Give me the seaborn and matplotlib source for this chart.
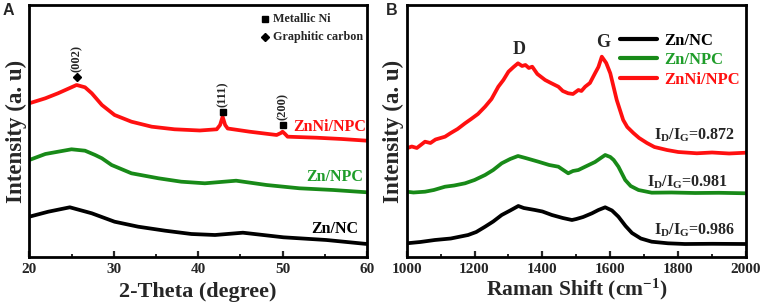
import numpy as np
import pandas as pd
import matplotlib
matplotlib.use("Agg")
import matplotlib.pyplot as plt
import seaborn as sns
from matplotlib.lines import Line2D

# ---------------- data (panel A: XRD) ----------------
xrd_red_x = [20.0, 21.9, 23.4, 25.6, 26.6, 27.4, 28.6, 30.1, 32.1, 34.5, 37.2, 40.2, 42.2, 42.6, 42.9, 43.2,
             43.5, 46.1, 49.3, 49.8, 50.0, 50.3, 50.6, 54.0, 57.0, 60.0]
xrd_red_y = [153.7, 158.7, 163.7, 172.0, 169.7, 163.7, 152.0, 142.0, 135.3, 130.3, 127.7, 126.5, 127.7, 132.0,
             140.3, 132.0, 128.5, 125.3, 122.0, 124.0, 125.3, 123.0, 120.3, 119.3, 118.0, 116.3]
xrd_green_x = [20.0, 21.9, 25.0, 26.6, 27.8, 28.6, 29.75, 32.1, 35.3, 38.0, 40.8, 44.5, 48.1, 52.0, 56.0, 60.0]
xrd_green_y = [97.0, 103.0, 107.7, 106.3, 102.0, 98.7, 92.0, 83.7, 78.7, 75.3, 73.7, 76.3, 72.0, 68.7, 67.0, 64.7]
xrd_black_x = [20.0, 22.25, 24.8, 27.4, 30.1, 32.9, 36.1, 39.2, 42.0, 45.3, 50.1, 55.2, 60.0]
xrd_black_y = [40.3, 45.3, 49.7, 43.7, 35.3, 30.3, 26.3, 23.0, 22.0, 24.3, 19.7, 17.0, 13.0]

# ---------------- data (panel B: Raman) ----------------
ram_red_x = [1000, 1015, 1030, 1054, 1070, 1085, 1113, 1130, 1150, 1172, 1190, 1210, 1231, 1250, 1270, 1285,
             1300, 1315, 1328, 1340, 1350, 1360, 1370, 1385, 1408, 1425, 1447, 1460, 1476, 1490, 1506, 1515,
             1526, 1540, 1555, 1565, 1575, 1588, 1600, 1619, 1638, 1650, 1668, 1685, 1708, 1730, 1767, 1800,
             1855, 1900, 1950, 2000]
ram_red_y = [108.7, 110.5, 109.0, 115.3, 114.0, 117.5, 120.3, 124.0, 128.0, 133.7, 138.0, 143.0, 150.3, 158.0,
             170.3, 177.0, 185.3, 190.0, 193.7, 191.0, 192.0, 189.0, 190.3, 183.0, 177.0, 174.0, 170.3, 166.0,
             163.7, 163.0, 167.0, 166.0, 170.3, 174.0, 183.7, 190.0, 200.3, 194.0, 183.7, 157.0, 137.0, 130.0,
             124.0, 119.0, 114.0, 110.0, 107.0, 105.0, 103.7, 104.5, 103.5, 104.3]
ram_green_x = [1000, 1020, 1054, 1080, 1113, 1140, 1172, 1200, 1231, 1255, 1280, 1305, 1328, 1350, 1388, 1420,
               1447, 1476, 1490, 1506, 1526, 1555, 1572, 1585, 1600, 1610, 1624, 1644, 1660, 1683, 1722, 1780,
               1850, 1920, 2000]
ram_green_y = [65.3, 64.5, 65.3, 67.0, 70.3, 71.5, 73.7, 77.0, 82.0, 87.0, 93.7, 98.0, 101.0, 99.0, 95.3, 92.0,
               90.3, 83.7, 86.0, 87.0, 90.3, 95.0, 99.0, 102.0, 100.0, 97.0, 90.3, 77.0, 71.0, 67.0, 64.3, 64.5,
               64.0, 64.2, 63.7]
ram_black_x = [1000, 1040, 1083, 1130, 1181, 1205, 1231, 1255, 1280, 1305, 1329, 1345, 1378, 1400, 1428, 1460,
               1487, 1500, 1520, 1546, 1565, 1585, 1605, 1624, 1645, 1664, 1690, 1722, 1770, 1820, 1900, 2000]
ram_black_y = [13.7, 15.0, 17.0, 18.5, 22.0, 25.0, 30.3, 35.5, 42.0, 46.5, 51.0, 49.0, 47.0, 45.5, 42.0, 39.0,
               37.0, 38.0, 40.0, 43.7, 47.0, 49.7, 46.5, 40.3, 31.0, 24.0, 18.5, 15.3, 13.7, 13.0, 13.2, 13.0]

samples = ["Zn/NC", "Zn/NPC", "ZnNi/NPC"]
ratios = ["0.986", "0.981", "0.872"]
peak_labels = ["(002)", "(111)", "(200)"]
peak_pos = [25.6, 42.9, 50.0]
marker_kinds = ["D", "s", "s"]
legend_a = ["Metallic Ni", "Graphitic carbon"]

line_colors = {"Zn/NC": "#000000", "Zn/NPC": "#188a18", "ZnNi/NPC": "#ff1010"}
text_colors = {"Zn/NC": "#000000", "Zn/NPC": "#1f9d2a", "ZnNi/NPC": "#ff1010"}

xrd = pd.concat([
    pd.DataFrame({"x": xrd_black_x, "y": xrd_black_y, "s": "Zn/NC"}),
    pd.DataFrame({"x": xrd_green_x, "y": xrd_green_y, "s": "Zn/NPC"}),
    pd.DataFrame({"x": xrd_red_x, "y": xrd_red_y, "s": "ZnNi/NPC"}),
])
ram = pd.concat([
    pd.DataFrame({"x": ram_black_x, "y": ram_black_y, "s": "Zn/NC"}),
    pd.DataFrame({"x": ram_green_x, "y": ram_green_y, "s": "Zn/NPC"}),
    pd.DataFrame({"x": ram_red_x, "y": ram_red_y, "s": "ZnNi/NPC"}),
])

sns.set_style("white")
plt.rcParams["font.family"] = ["Liberation Serif", "DejaVu Serif"]
plt.rcParams["font.weight"] = "bold"
plt.rcParams["mathtext.fontset"] = "custom"
plt.rcParams["mathtext.rm"] = "Liberation Serif:bold"
plt.rcParams["mathtext.it"] = "Liberation Serif:bold"
plt.rcParams["mathtext.bf"] = "Liberation Serif:bold"
plt.rcParams["mathtext.default"] = "rm"

fig = plt.figure(figsize=(7.65, 3.04), dpi=100)
axA = fig.add_axes([0.0383, 0.1546, 0.4414, 0.829])
axB = fig.add_axes([0.5316, 0.1546, 0.4436, 0.829])

sns.lineplot(data=xrd, x="x", y="y", hue="s", palette=line_colors, hue_order=samples,
             linewidth=2.7, legend=False, ax=axA, estimator=None, sort=False)
sns.lineplot(data=ram, x="x", y="y", hue="s", palette=line_colors, hue_order=samples,
             linewidth=2.7, legend=False, ax=axB, estimator=None, sort=False)

for ax in (axA, axB):
    ax.set_ylim(0, 252)
    ax.set_yticks([])
    for sp in ax.spines.values():
        sp.set_linewidth(2.0)
        sp.set_color("black")
    ax.tick_params(axis="x", which="major", direction="in", length=4, width=1.6,
                   labelsize=11, pad=4, bottom=True)
    ax.tick_params(axis="x", which="minor", direction="in", length=2.5, width=1.4, bottom=True)
    ax.set_ylabel("Intensity (a. u)", fontsize=16.5, fontweight="bold", labelpad=2)

axA.set_xlim(20, 60)
axA.set_xticks([20, 30, 40, 50, 60])
axA.set_xticks([25, 35, 45, 55], minor=True)
axA.set_xlabel("2-Theta (degree)", fontsize=16, fontweight="bold")

axB.set_xlim(1000, 2000)
axB.set_xticks([1000, 1200, 1400, 1600, 1800, 2000])
axB.set_xticks([1100, 1300, 1500, 1700, 1900], minor=True)
axB.set_xlabel("Raman Shift (cm$^{-1}$)", fontsize=15.5, fontweight="bold")

for ax in (axA, axB):
    ax.xaxis.label.set_va("bottom")
    ax.xaxis.set_label_coords(0.5, -0.178)
    for t in ax.get_xticklabels():
        t.set_fontweight("bold")

# panel A annotations
peak_marker_y = [180, 145, 132]
peak_text_y = [185, 150, 137]
for lab, px, mk, my, ty in zip(peak_labels, peak_pos, marker_kinds, peak_marker_y, peak_text_y):
    axA.plot([px], [my], marker=mk, color="black", markersize=4.5, linestyle="none")
    axA.text(px, ty, lab, rotation=90, ha="center", va="bottom", fontsize=9, fontweight="bold")

axA.plot([0.698], [0.944], marker="s", color="black", markersize=4.5, transform=axA.transAxes, clip_on=False)
axA.text(0.722, 0.944, legend_a[0], transform=axA.transAxes, ha="left", va="center",
         fontsize=8.7, fontweight="bold")
axA.plot([0.698], [0.873], marker="D", color="black", markersize=4.5, transform=axA.transAxes, clip_on=False)
axA.text(0.722, 0.873, legend_a[1], transform=axA.transAxes, ha="left", va="center",
         fontsize=8.7, fontweight="bold")

label_pos_A = {"ZnNi/NPC": (0.998, 130), "Zn/NPC": (0.988, 80), "Zn/NC": (0.975, 28)}
for s in samples:
    xa, yv = label_pos_A[s]
    axA.text(xa, yv, s, transform=axA.get_yaxis_transform(), ha="right", va="center",
             fontsize=11.5, fontweight="bold", color=text_colors[s])

# panel B annotations
axB.text(1330, 207, "D", ha="center", va="center", fontsize=13, fontweight="bold")
axB.text(1580, 214, "G", ha="center", va="center", fontsize=13, fontweight="bold")
ratio_pos = {"Zn/NC": (0.968, 27), "Zn/NPC": (0.947, 75), "ZnNi/NPC": (0.968, 122)}
for s, r in zip(samples, ratios):
    xa, yv = ratio_pos[s]
    axB.text(xa, yv, "I$_D$/I$_G$=" + r, transform=axB.get_yaxis_transform(), ha="right", va="center",
             fontsize=11.5, fontweight="bold")

handles = [Line2D([0], [0], color=line_colors[s], linewidth=3.0) for s in samples]
leg = axB.legend(handles, samples, loc="upper right", bbox_to_anchor=(1.01, 0.93), frameon=False,
                 prop={"family": "Liberation Serif", "weight": "bold", "size": 12},
                 handlelength=2.2, handletextpad=0.4, labelspacing=0.22, borderaxespad=0.2)
for t, s in zip(leg.get_texts(), samples):
    t.set_color(text_colors[s])

fig.text(0.004, 0.952, "A", fontsize=11.5, fontweight="bold", family="Liberation Sans")
fig.text(0.504, 0.952, "B", fontsize=11.5, fontweight="bold", family="Liberation Sans")

fig.savefig("out.png", dpi=100)
